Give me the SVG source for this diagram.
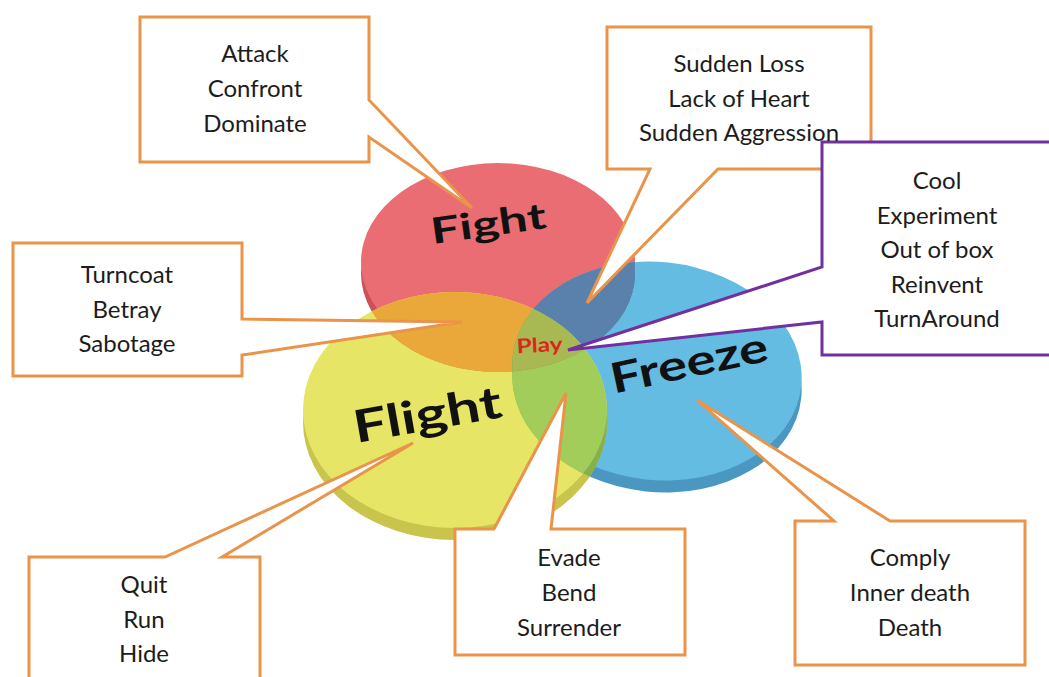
<svg xmlns="http://www.w3.org/2000/svg" width="1049" height="677" viewBox="0 0 1049 677">
<style>
.box{fill:#ffffff;stroke:#e9944a;stroke-width:3}
.pbox{fill:#ffffff;stroke:#7030a0;stroke-width:3}
.t{font-family:Lato,"Open Sans","Liberation Sans",sans-serif;font-size:24px;fill:#1c1c1c;text-anchor:middle}
.big{font-family:Lato,"Liberation Sans",sans-serif;font-weight:bold;fill:#111111;text-anchor:middle}
</style>
<defs>
<clipPath id="cRed"><ellipse cx="498" cy="262" rx="137" ry="99"/><ellipse cx="498" cy="273" rx="137" ry="99"/></clipPath>
<clipPath id="cBlue"><ellipse cx="657" cy="371" rx="145" ry="109" transform="rotate(6 657 371)"/><ellipse cx="657" cy="383" rx="145" ry="109" transform="rotate(6 657 383)"/></clipPath>
</defs>
<rect width="1049" height="677" fill="#ffffff"/>

<g id="disc-fight">
<ellipse cx="498" cy="273" rx="137" ry="99" fill="#c9525a"/>
<ellipse cx="498" cy="262" rx="137" ry="99" fill="#e96d72"/>
</g>
<g id="disc-freeze">
<ellipse cx="657" cy="383" rx="145" ry="109" transform="rotate(6 657 383)" fill="#4a98c2"/>
<ellipse cx="657" cy="371" rx="145" ry="109" transform="rotate(6 657 371)" fill="#64bce2"/>
</g>
<g id="disc-flight">
<ellipse cx="455" cy="422" rx="152" ry="118" fill="#c8c44c"/>
<ellipse cx="455" cy="410" rx="152" ry="118" fill="#e6e566"/>
</g>
<g id="overlaps">
<g clip-path="url(#cRed)">
<ellipse cx="657" cy="383" rx="145" ry="109" transform="rotate(6 657 383)" fill="#4a6c96"/>
<ellipse cx="657" cy="371" rx="145" ry="109" transform="rotate(6 657 371)" fill="#5a80ac"/>
</g>
<g clip-path="url(#cRed)">
<ellipse cx="455" cy="422" rx="152" ry="118" fill="#d08e2c"/>
<ellipse cx="455" cy="410" rx="152" ry="118" fill="#eaa83a"/>
</g>
<g clip-path="url(#cBlue)">
<ellipse cx="455" cy="422" rx="152" ry="118" fill="#88b04a"/>
<ellipse cx="455" cy="410" rx="152" ry="118" fill="#a2cd5a"/>
</g>
<g clip-path="url(#cRed)"><g clip-path="url(#cBlue)">
<ellipse cx="455" cy="422" rx="152" ry="118" fill="#8e9c44"/>
<ellipse cx="455" cy="410" rx="152" ry="118" fill="#a8b852"/>
</g></g>
</g>

<g id="labels">
<text class="big" x="490" y="236" font-size="36" textLength="116" lengthAdjust="spacingAndGlyphs" transform="rotate(-8 490 236)">Fight</text>
<text class="big" x="430" y="430" font-size="45" textLength="150" lengthAdjust="spacingAndGlyphs" transform="rotate(-10 430 430)">Flight</text>
<text class="big" x="692" y="377" font-size="42" textLength="160" lengthAdjust="spacingAndGlyphs" transform="rotate(-12 692 377)">Freeze</text>
<text class="big" x="540" y="352" font-size="20" style="fill:#e0231e" textLength="46" lengthAdjust="spacingAndGlyphs" transform="rotate(-3 540 352)">Play</text>
</g>

<g id="callout-fight">
<polygon class="box" points="140,17 369,17 369,100 472,208 369,137 369,162 140,162"/>
<text class="t" x="255" y="62">Attack</text>
<text class="t" x="255" y="97">Confront</text>
<text class="t" x="255" y="132">Dominate</text>
</g>
<g id="callout-fight-freeze">
<polygon class="box" points="607,27 871,27 871,169 718,169 587,303 650,169 607,169"/>
</g>
<g id="callout-play">
<polygon class="pbox" points="822,142 1060,142 1060,355 822,355 822,322 568,350 822,267"/>
<text class="t" x="937" y="189">Cool</text>
<text class="t" x="937" y="224">Experiment</text>
<text class="t" x="937" y="258">Out of box</text>
<text class="t" x="937" y="293">Reinvent</text>
<text class="t" x="937" y="327">TurnAround</text>
</g>
<g id="callout-fight-freeze-text">
<text class="t" x="739" y="72">Sudden Loss</text>
<text class="t" x="739" y="107">Lack of Heart</text>
<text class="t" x="739" y="141">Sudden Aggression</text>
</g>
<g id="callout-fight-flight">
<polygon class="box" points="13,243 242,243 242,319 462,322 242,355 242,376 13,376"/>
<text class="t" x="127" y="283">Turncoat</text>
<text class="t" x="127" y="318">Betray</text>
<text class="t" x="127" y="352">Sabotage</text>
</g>
<g id="callout-flight">
<polygon class="box" points="29,557 165,557 413,443 222,557 260,557 260,690 29,690"/>
<text class="t" x="144" y="593">Quit</text>
<text class="t" x="144" y="628">Run</text>
<text class="t" x="144" y="662">Hide</text>
</g>
<g id="callout-flight-freeze">
<polygon class="box" points="455,529 494,529 566,393 551,529 685,529 685,655 455,655"/>
<text class="t" x="569" y="566">Evade</text>
<text class="t" x="569" y="601">Bend</text>
<text class="t" x="569" y="636">Surrender</text>
</g>
<g id="callout-freeze">
<polygon class="box" points="795,521 834,521 697,400 890,521 1025,521 1025,665 795,665"/>
<text class="t" x="910" y="566">Comply</text>
<text class="t" x="910" y="601">Inner death</text>
<text class="t" x="910" y="636">Death</text>
</g>
</svg>
